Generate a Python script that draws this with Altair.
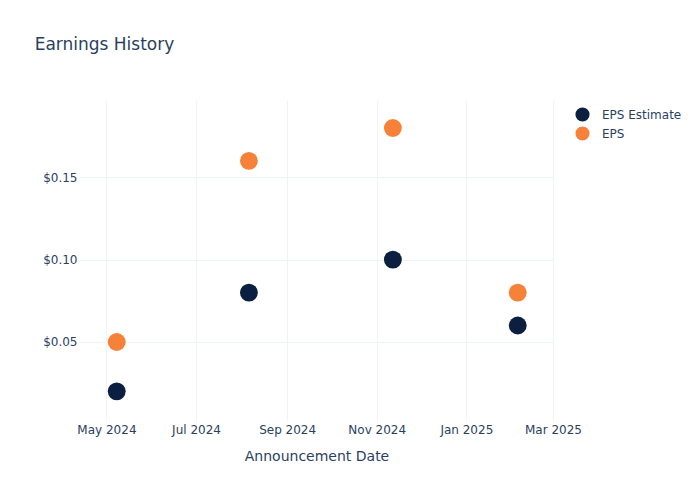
import altair as alt
import pandas as pd

dates = ["2024-05-08", "2024-08-06", "2024-11-12", "2025-02-05"]
eps_estimate = [0.02, 0.08, 0.10, 0.06]
eps_actual = [0.05, 0.16, 0.18, 0.08]
series_names = ["EPS Estimate", "EPS"]
series_colors = ["#0b1f41", "#f6823a"]

rows = []
for d, e, a in zip(dates, eps_estimate, eps_actual):
    rows.append({"date": d, "series": series_names[0], "value": e})
    rows.append({"date": d, "series": series_names[1], "value": a})
df = pd.DataFrame(rows)

text_color = "#2a3f5f"
grid_color = "#eef2f9"

tick_dates = [
    alt.DateTime(year=2024, month=5, date=1, utc=True),
    alt.DateTime(year=2024, month=7, date=1, utc=True),
    alt.DateTime(year=2024, month=9, date=1, utc=True),
    alt.DateTime(year=2024, month=11, date=1, utc=True),
    alt.DateTime(year=2025, month=1, date=1, utc=True),
    alt.DateTime(year=2025, month=3, date=1, utc=True),
]

chart = alt.Chart(df).mark_circle(size=320, opacity=1).encode(
    x=alt.X(
        "date:T",
        title="Announcement Date",
        scale=alt.Scale(
            type="utc",
            domain=[
                alt.DateTime(year=2024, month=4, date=13, utc=True),
                alt.DateTime(year=2025, month=3, date=1, utc=True),
            ],
            nice=False,
        ),
        axis=alt.Axis(
            values=tick_dates,
            labelExpr="utcFormat(datum.value, '%b %Y')",
            labelFlush=False,
            labelOverlap=False,
            labelPadding=4,
            titlePadding=14,
        ),
    ),
    y=alt.Y(
        "value:Q",
        title=None,
        scale=alt.Scale(domain=[0.0026, 0.197], nice=False, zero=False),
        axis=alt.Axis(values=[0.05, 0.10, 0.15], format="$.2f", labelPadding=3),
    ),
    color=alt.Color(
        "series:N",
        scale=alt.Scale(domain=series_names, range=series_colors),
        sort=series_names,
        legend=alt.Legend(
            title=None,
            orient="none",
            legendX=495,
            legendY=7,
            symbolType="circle",
            symbolSize=200,
            symbolOpacity=1,
            symbolStrokeWidth=0,
            labelFontSize=12,
            labelColor=text_color,
            labelFont="DejaVu Sans",
            rowPadding=4,
            labelOffset=12,
        ),
    ),
    order=alt.Order("series:N", sort="ascending"),
).properties(
    width=473,
    height=320,
    title=alt.TitleParams(
        "Earnings History",
        anchor="start",
        dx=-8,
        fontSize=17,
        fontWeight="normal",
        color=text_color,
        font="DejaVu Sans",
        offset=46,
    ),
    autosize=alt.AutoSizeParams(type="none"),
    padding={"left": 72, "top": 92, "right": 130, "bottom": 60},
).configure_view(
    stroke=None
).configure_axis(
    grid=True,
    gridColor=grid_color,
    gridWidth=1,
    domain=False,
    ticks=False,
    labelColor=text_color,
    labelFontSize=12,
    labelFont="DejaVu Sans",
    titleColor=text_color,
    titleFontSize=14,
    titleFont="DejaVu Sans",
    titleFontWeight="normal",
)

chart.save("out.html", embed_options={"renderer": "svg", "actions": False})
